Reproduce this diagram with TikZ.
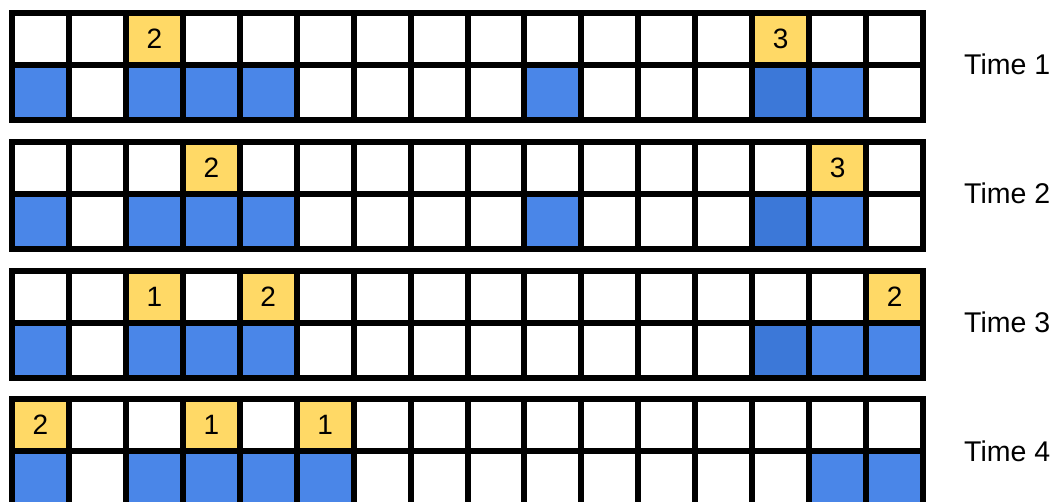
\documentclass[tikz,border=0pt]{standalone}
\usepackage{fontspec}
\setmainfont{Liberation Sans}
\definecolor{cellyellow}{HTML}{FFD966}
\definecolor{cellblue}{HTML}{4A86E8}
\definecolor{celldark}{HTML}{3C78D8}
\def\cw{56.94}
\newcommand{\gridblock}[1]{%
  \foreach \i in {0,...,16} \draw[gridline] ({12+\cw*\i},{#1}) -- ({12+\cw*\i},{#1+106.5});
  \foreach \yy in {0,51.5,106.5} \draw[gridline] (12,{#1+\yy}) -- ({12+\cw*16},{#1+\yy});
}
\newcommand{\bluecells}[3]{%
  \foreach \c in {#3} \fill[#1] ({12+\cw*(\c-1)},{#2+51.5}) rectangle ({12+\cw*\c},{#2+106.5});
}
\newcommand{\ynode}[4]{%
  \node[ycell] (#1) at ({12+\cw*(#3-0.5)},{#2+25.75}) {#4};
}
\begin{document}
\begin{tikzpicture}[x=1pt,y=-1pt,
  gridline/.style={draw=black,line width=6pt,line cap=rect},
  ycell/.style={fill=cellyellow,minimum width=56.94pt,minimum height=51.5pt,inner sep=0pt,
    font=\fontsize{28}{30}\selectfont,text=black},
  timelabel/.style={anchor=west,inner sep=0pt,font=\fontsize{28.5}{30}\selectfont,text=black}]
\useasboundingbox (0,0) rectangle (1057,501);
\clip (0,0) rectangle (1057,501);
% Time 1
\bluecells{cellblue}{13}{1,3,4,5,10,15}
\bluecells{celldark}{13}{14}
\ynode{a3}{13}{3}{2}
\ynode{a14}{13}{14}{3}
\gridblock{13}
\node[timelabel] (time1) at (964,64.5) {Time 1};
% Time 2
\bluecells{cellblue}{142}{1,3,4,5,10,15}
\bluecells{celldark}{142}{14}
\ynode{b4}{142}{4}{2}
\ynode{b15}{142}{15}{3}
\gridblock{142}
\node[timelabel] (time2) at (964,193.5) {Time 2};
% Time 3
\bluecells{cellblue}{271}{1,3,4,5,15,16}
\bluecells{celldark}{271}{14}
\ynode{c3}{271}{3}{1}
\ynode{c5}{271}{5}{2}
\ynode{c16}{271}{16}{2}
\gridblock{271}
\node[timelabel] (time3) at (964,322.5) {Time 3};
% Time 4
\bluecells{cellblue}{399}{1,3,4,5,6,15,16}
\ynode{d1}{399}{1}{2}
\ynode{d4}{399}{4}{1}
\ynode{d6}{399}{6}{1}
\gridblock{399}
\node[timelabel] (time4) at (964,451) {Time 4};
\end{tikzpicture}
\end{document}
